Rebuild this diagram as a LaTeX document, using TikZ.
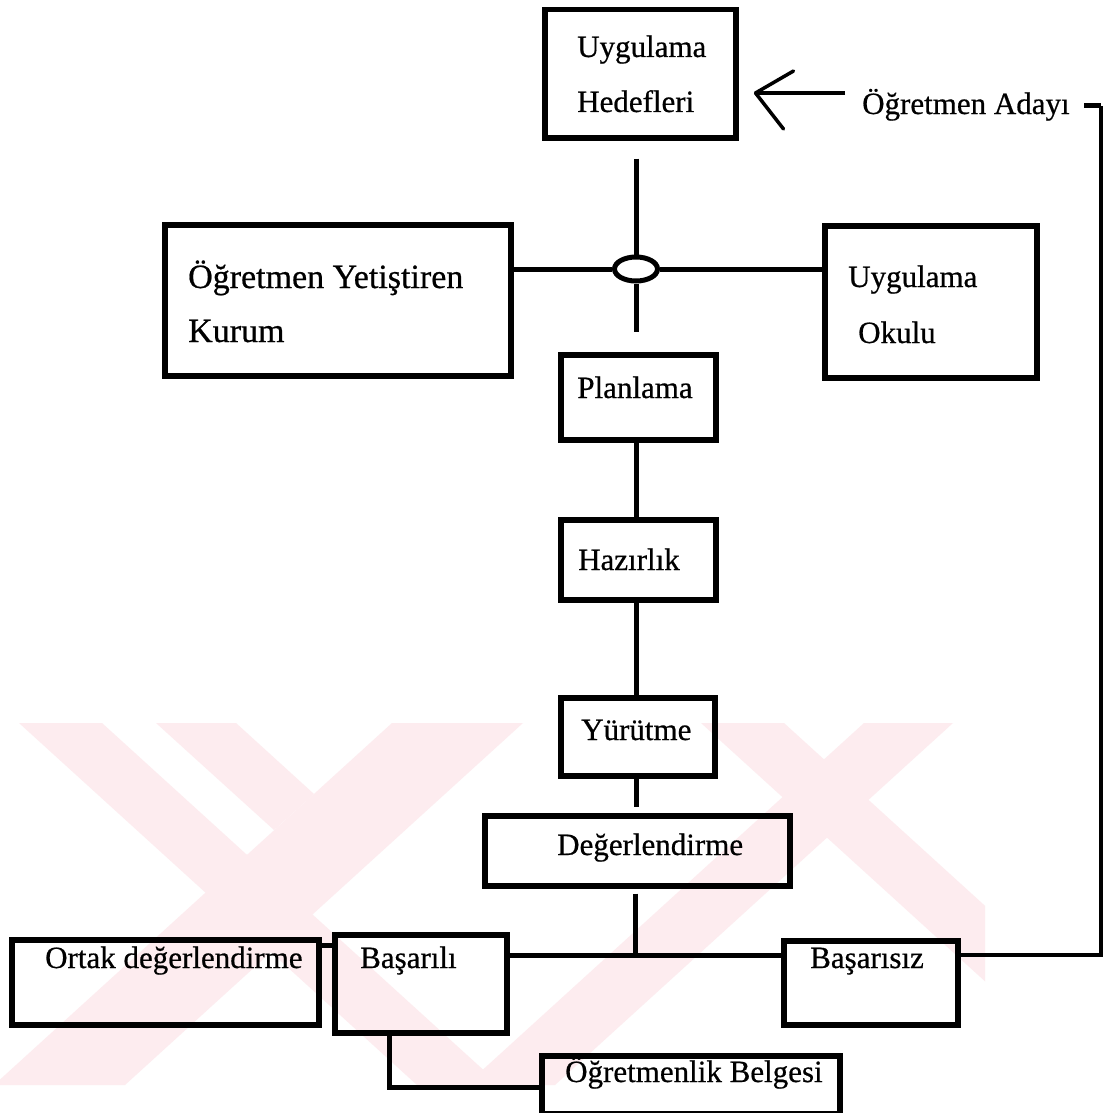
\documentclass[tikz,border=0pt]{standalone}
\usepackage{fontspec}
\setmainfont{Liberation Serif}
\newfontfamily\inkfont{Liberation Serif}[UprightFeatures={FakeBold=0.6}]
\usetikzlibrary{shapes.geometric,calc}

\definecolor{wmpink}{RGB}{253,236,239}

\tikzset{
  box/.style={draw=black, line width=5.5pt, rectangle, inner sep=0pt, anchor=north west},
  txt/.style={anchor=base west, inner sep=0pt, font=\inkfont\fontsize{31}{37}\selectfont},
  bigtxt/.style={txt, font=\inkfont\fontsize{34}{40}\selectfont},
  link/.style={draw=black, line width=5pt},
  tipline/.style={draw=black, line width=3.5pt, line cap=round},
  hubshape/.style={draw=black, line width=5pt, ellipse, minimum width=43pt, minimum height=24pt, inner sep=0pt},
}

\begin{document}
\begin{tikzpicture}[x=1pt, y=-1pt]
\useasboundingbox (0,0) rectangle (1104,1113);
\fill[white] (0,0) rectangle (1104,1113);

% faint striped emblem behind the lower part
\begin{scope}
  \clip (0,723) rectangle (985,1085);
  \fill[wmpink] (19,723) -- (102,723) -- (500,1085) -- (417,1085) -- cycle;
  \fill[wmpink] (156,723) -- (236,723) -- (314,794) -- (274,830) -- cycle;
  \fill[wmpink] (392,723) -- (523,723) -- (125,1085) -- (-6,1085) -- cycle;
  \fill[wmpink] (701,723) -- (784,723) -- (1182,1085) -- (1099,1085) -- cycle;
  \fill[wmpink] (864,723) -- (953,723) -- (555,1085) -- (466,1085) -- cycle;
\end{scope}

% boxes
\node[box, minimum width=191pt, minimum height=128pt] (UH) at (542,7) {};
\node[box, minimum width=346pt, minimum height=151pt] (OYK) at (162,222) {};
\node[box, minimum width=212pt, minimum height=152pt] (UO) at (822,223) {};
\node[box, minimum width=155pt, minimum height=85pt] (PL) at (558,352) {};
\node[box, minimum width=155pt, minimum height=80pt] (HZ) at (558,517) {};
\node[box, minimum width=154pt, minimum height=78pt] (YR) at (558,695) {};
\node[box, minimum width=305pt, minimum height=70pt] (DG) at (482,813) {};
\node[box, minimum width=307pt, minimum height=85pt] (OD) at (9,937) {};
\node[box, minimum width=172pt, minimum height=98pt] (BS) at (332,932) {};
\node[box, minimum width=174pt, minimum height=84pt] (BF) at (781,938) {};
\node[box, minimum width=298pt, minimum height=58pt] (OB) at (539,1053) {};

% hub
\node[hubshape] (hub) at (636,269) {};

% texts
\node[txt] (tUH1) at (577,57) {Uygulama};
\node[txt] (tUH2) at (577,112) {Hedefleri};
\node[txt] (aday) at (862,114) {Öğretmen Adayı};
\node[bigtxt] (tOYK1) at (188,288) {Öğretmen Yetiştiren};
\node[bigtxt] (tOYK2) at (188,342) {Kurum};
\node[txt] (tUO1) at (848,287) {Uygulama};
\node[txt] (tUO2) at (858,343) {Okulu};
\node[txt, anchor=base] (tPL) at (635,398) {Planlama};
\node[txt] (tHZ) at (578,570) {Hazırlık};
\node[txt] (tYR) at (581,740) {Yürütme};
\node[txt] (tDG) at (557,855) {Değerlendirme};
\node[txt] (tOD) at (45,968) {Ortak değerlendirme};
\node[txt] (tBS) at (360,968) {Başarılı};
\node[txt] (tBF) at (810,968) {Başarısız};
\node[txt] (tOB) at (565,1082) {Öğretmenlik Belgesi};

% trunk
\draw[link, shorten <=18pt] (UH.south -| hub.north) -- (hub.north);
\draw[link, shorten >=20pt] (hub.south) -- (hub.south |- PL.north);
\draw[link] (hub.west) -- (hub.west -| OYK.east);
\draw[link] (hub.east) -- (hub.east -| UO.west);
\draw[link] (PL.south -| hub.south) -- (HZ.north -| hub.south);
\draw[link] (HZ.south -| hub.south) -- (YR.north -| hub.south);
\draw[link, shorten >=6pt] (YR.south -| hub.south) -- (DG.north -| hub.south);

% branching after evaluation
\coordinate (fork) at (635,955);
\draw[link, shorten <=5pt] (DG.south -| fork) -- (fork);
\draw[link] (BS.east |- fork) -- (BF.west |- fork);
\draw[link] (OD.east |- 0,945) -- (BS.west |- 0,945);
\coordinate (bend) at (389,1087);
\draw[link] (BS.south -| bend) -- (bend) -- (bend -| OB.west);

% return loop to the candidate
\coordinate (loopB) at (1101,955);
\coordinate (loopT) at (1101,106);
\draw[link, line width=3.5pt] (BF.east |- loopB) -- (loopB) -- (loopT);
\draw[link, line width=5pt] (loopT) -- ($(aday.east |- loopT)+(14,0)$);

% arrow into the goals box
\coordinate (tail) at (845,93);
\coordinate (tip) at ($(UH.east |- tail)+(17,0)$);
\draw[link, line width=4pt] (tail) -- (tip);
\draw[tipline] (tip) -- ++(38,-22);
\draw[tipline] (tip) -- ++(28,36);
\end{tikzpicture}
\end{document}
